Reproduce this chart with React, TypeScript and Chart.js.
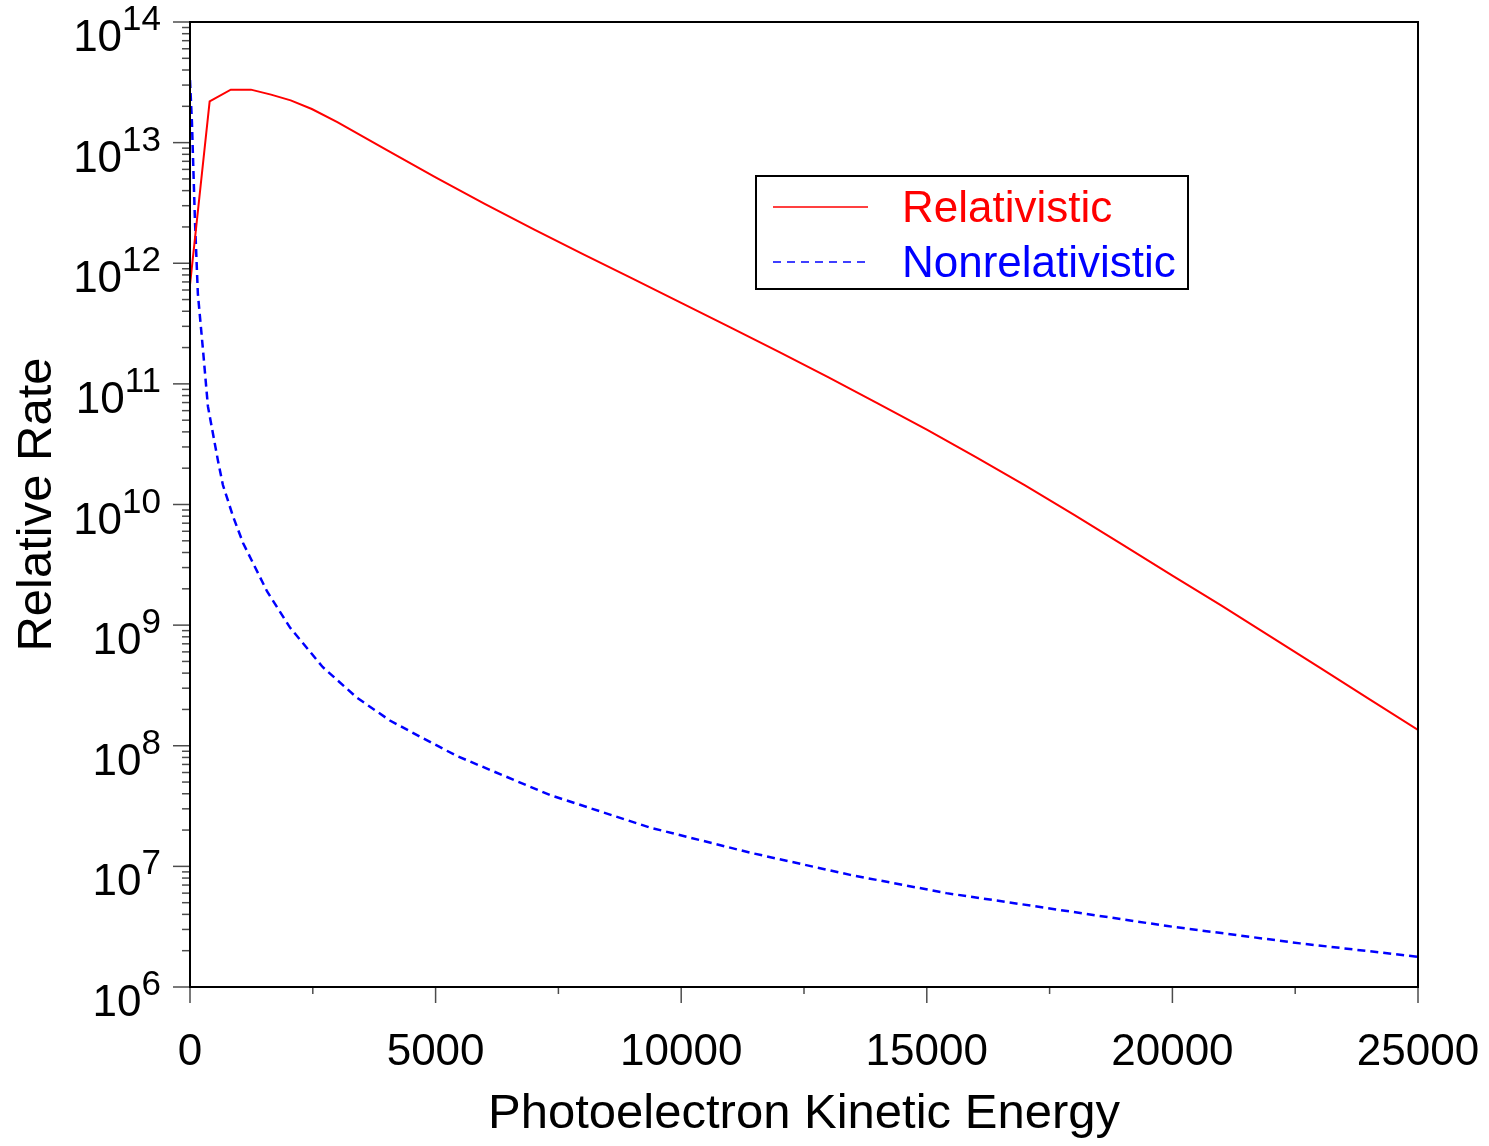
import React, { useEffect, useRef } from 'react';
import { Chart, registerables } from 'chart.js';

Chart.register(...registerables);

// ---- Data ----
const energyRel = [0, 400, 830, 1240, 1650, 2050, 2480, 3000, 4000, 5000, 6000, 7000, 8000, 9000, 10000, 11000, 12000, 13000, 14000, 15000, 16000, 17000, 18000, 19000, 20000, 21000, 22000, 23000, 24000, 25000];
const rateRel = [6.6e11, 2.2e13, 2.75e13, 2.75e13, 2.5e13, 2.24e13, 1.9e13, 1.48e13, 8.7e12, 5.16e12, 3.11e12, 1.91e12, 1.19e12, 7.48e11, 4.7e11, 2.94e11, 1.83e11, 1.13e11, 6.9e10, 4.18e10, 2.47e10, 1.44e10, 8.2e9, 4.61e9, 2.57e9, 1.45e9, 8.04e8, 4.45e8, 2.45e8, 1.35e8];

const energyNon = [0, 40, 100, 160, 265, 365, 570, 670, 875, 1080, 1570, 2040, 2700, 3400, 4070, 4750, 5440, 7330, 9360, 11400, 13440, 15400, 17160, 19900, 22600, 25000];
const rateNon = [3.3e13, 1.45e13, 2.3e12, 5.6e11, 1.9e11, 6.5e10, 2.3e10, 1.45e10, 8.0e9, 4.8e9, 1.9e9, 9.5e8, 4.5e8, 2.5e8, 1.62e8, 1.15e8, 8.2e7, 3.9e7, 2.1e7, 1.3e7, 8.5e6, 6.0e6, 4.7e6, 3.2e6, 2.3e6, 1.78e6];

const seriesLabels = ['Relativistic', 'Nonrelativistic'];
const seriesColors = ['#ff0000', '#0000ff'];

const xMajorTicks = [0, 5000, 10000, 15000, 20000, 25000];
const xMinorTicks = [2500, 7500, 12500, 17500, 22500];
const yDecadeExponents = [6, 7, 8, 9, 10, 11, 12, 13, 14];
const yMinorMultipliers = [2, 3, 4, 5, 6, 7, 8, 9];

const xTitle = 'Photoelectron Kinetic Energy';
const yTitle = 'Relative Rate';

const FONT = '"Liberation Sans", Arial, Helvetica, sans-serif';

const decorPlugin = {
  id: 'decor',
  afterDraw(chart: any) {
    const { ctx, chartArea: a, scales } = chart;
    const xs = scales.x;
    const ys = scales.y;
    ctx.save();

    // tick marks
    ctx.strokeStyle = 'rgba(0,0,0,0.7)';
    ctx.lineWidth = 1.5;
    const line = (x1: number, y1: number, x2: number, y2: number) => {
      ctx.beginPath();
      ctx.moveTo(x1, y1);
      ctx.lineTo(x2, y2);
      ctx.stroke();
    };
    yDecadeExponents.forEach((e) => {
      const py = ys.getPixelForValue(Math.pow(10, e));
      line(a.left - 17, py, a.left, py);
      if (e < 14) {
        yMinorMultipliers.forEach((m) => {
          const pm = ys.getPixelForValue(m * Math.pow(10, e));
          line(a.left - 8, pm, a.left, pm);
        });
      }
    });
    xMajorTicks.forEach((v) => {
      const px = xs.getPixelForValue(v);
      line(px, a.bottom, px, a.bottom + 16);
    });
    xMinorTicks.forEach((v) => {
      const px = xs.getPixelForValue(v);
      line(px, a.bottom, px, a.bottom + 7);
    });

    // frame
    ctx.strokeStyle = '#000';
    ctx.lineWidth = 2;
    ctx.strokeRect(a.left, a.top, a.right - a.left, a.bottom - a.top);

    // y tick labels 10^n
    ctx.fillStyle = '#000';
    ctx.textBaseline = 'alphabetic';
    ctx.textAlign = 'right';
    const labelRight = a.left - 29;
    yDecadeExponents.forEach((e) => {
      const py = ys.getPixelForValue(Math.pow(10, e));
      ctx.font = `35px ${FONT}`;
      const expText = String(e);
      const we = ctx.measureText(expText).width;
      ctx.fillText(expText, labelRight, py + 8);
      ctx.font = `44px ${FONT}`;
      ctx.fillText('10', labelRight - we, py + 29);
    });

    // x tick labels
    ctx.textAlign = 'center';
    ctx.font = `44px ${FONT}`;
    xMajorTicks.forEach((v) => {
      const px = xs.getPixelForValue(v);
      ctx.fillText(String(v), px, a.bottom + 78);
    });

    // axis titles
    ctx.font = `49px ${FONT}`;
    ctx.fillText(xTitle, (a.left + a.right) / 2, a.bottom + 141);
    ctx.save();
    ctx.translate(51, (a.top + a.bottom) / 2);
    ctx.rotate(-Math.PI / 2);
    ctx.fillText(yTitle, 0, 0);
    ctx.restore();

    // legend
    const bx = 756, by = 176, bw = 432, bh = 113;
    ctx.fillStyle = '#fff';
    ctx.fillRect(bx, by, bw, bh);
    ctx.strokeStyle = '#000';
    ctx.lineWidth = 2;
    ctx.strokeRect(bx, by, bw, bh);
    const rows = [207, 262];
    chart.data.datasets.forEach((ds: any, i: number) => {
      const ry = rows[i];
      ctx.strokeStyle = ds.borderColor;
      ctx.lineWidth = 1.5;
      ctx.setLineDash(i === 1 ? [8, 6] : []);
      ctx.beginPath();
      ctx.moveTo(773, ry);
      ctx.lineTo(868, ry);
      ctx.stroke();
      ctx.setLineDash([]);
      ctx.fillStyle = ds.borderColor;
      ctx.textAlign = 'left';
      ctx.font = `44px ${FONT}`;
      ctx.fillText(ds.label, 902, ry + 15);
    });

    ctx.restore();
  },
};

export default function App() {
  const ref = useRef<HTMLCanvasElement | null>(null);

  useEffect(() => {
    if (!ref.current) return;
    const chart = new Chart(ref.current, {
      type: 'line',
      data: {
        datasets: [
          {
            label: seriesLabels[0],
            data: energyRel.map((e, i) => ({ x: e, y: rateRel[i] })),
            borderColor: seriesColors[0],
            backgroundColor: seriesColors[0],
            borderWidth: 2,
            pointRadius: 0,
            tension: 0,
            fill: false,
          },
          {
            label: seriesLabels[1],
            data: energyNon.map((e, i) => ({ x: e, y: rateNon[i] })),
            borderColor: seriesColors[1],
            backgroundColor: seriesColors[1],
            borderWidth: 2.5,
            borderDash: [8, 5],
            pointRadius: 0,
            tension: 0,
            fill: false,
          },
        ],
      },
      options: {
        animation: false,
        responsive: false,
        layout: { padding: { left: 190, top: 22, right: 71, bottom: 159 } },
        scales: {
          x: { type: 'linear', min: 0, max: 25000, display: false },
          y: { type: 'logarithmic', min: 1e6, max: 1e14, display: false },
        },
        plugins: {
          legend: { display: false },
          tooltip: { enabled: false },
        },
      },
      plugins: [decorPlugin],
    });
    return () => chart.destroy();
  }, []);

  return (
    <div style={{ position: 'absolute', left: 0, top: 0, width: 1489, height: 1146, background: '#fff' }}>
      <canvas ref={ref} width={1489} height={1146} style={{ display: 'block' }} />
    </div>
  );
}
